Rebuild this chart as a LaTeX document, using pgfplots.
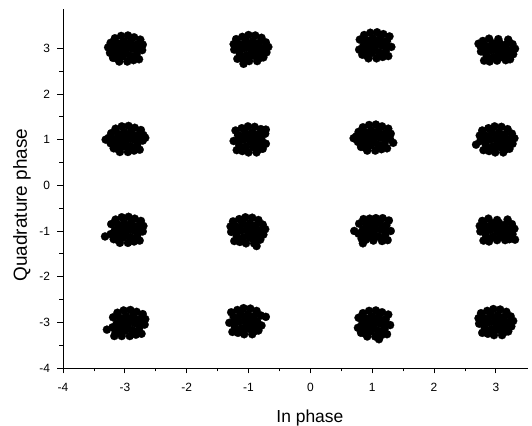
\documentclass[border=0pt]{standalone}
\usepackage{pgfplots}
\pgfplotsset{compat=1.18}
\usepackage{fontspec}
\setmainfont{Liberation Sans}
\pgfplotsset{dot/.style={only marks, mark=*, mark size=4.1bp, color=black, mark options={draw=black, fill=black, line width=0.2bp}}}
\begin{document}
\begin{tikzpicture}
\path[use as bounding box] (0,0) rectangle (532bp,426bp);
\begin{axis}[
  at={(63bp,58bp)}, anchor=south west,
  width=465bp, height=359bp, scale only axis,
  xmin=-4, xmax=3.52, ymin=-4, ymax=3.86,
  axis x line=bottom, axis y line=left,
  axis line style={-, line width=0.9bp, black},
  xtick={-4,-3,-2,-1,0,1,2,3}, ytick={-4,-3,-2,-1,0,1,2,3},
  xticklabels={-4,-3,-2,-1,0,1,2,3},
  yticklabels={-4,-3,-2,-1,0,1,2,3},
  minor tick num=1,
  tick align=outside,
  major tick length=5.5bp, minor tick length=3.5bp,
  tick style={black, line width=0.8bp},
  ticklabel style={font=\fontsize{12}{14}\selectfont},
  xticklabel style={yshift=-6.5bp},
  yticklabel style={xshift=-4bp},
  xlabel={In phase}, ylabel={Quadrature phase},
  xlabel style={font=\fontsize{17.5}{20}\selectfont, at={(axis description cs:0.531,-0.139)}, anchor=center},
  ylabel style={font=\fontsize{19}{22}\selectfont, at={(axis description cs:-0.088,0.454)}, anchor=center},
  clip=false,
]
% (-3,3)
\addplot[dot] table {
-3.27 3.02
-3.24 2.90
-3.23 3.12
-3.19 2.79
-3.17 2.99
-3.16 3.22
-3.13 2.89
-3.12 3.11
-3.09 2.71
-3.07 2.99
-3.06 3.27
-3.03 2.83
-3.02 3.15
-2.99 2.95
-2.98 3.05
-2.96 2.71
-2.95 3.28
-2.92 2.84
-2.91 3.14
-2.88 2.99
-2.86 2.74
-2.85 3.24
-2.81 2.87
-2.79 3.09
-2.77 2.76
-2.75 3.19
-2.72 2.96
-2.71 3.08
-3.12 2.77
-2.80 2.97
-3.06 3.07
-2.85 3.06
-3.05 2.92
};
% (-1,3)
\addplot[dot] table {
-0.68 3.03
-0.71 2.91
-0.72 3.13
-0.76 2.80
-0.78 3.00
-0.79 3.23
-0.82 2.90
-0.83 3.12
-0.86 2.72
-0.88 3.00
-0.89 3.28
-0.92 2.84
-0.93 3.16
-0.96 2.96
-0.97 3.06
-0.99 2.72
-1.00 3.29
-1.03 2.85
-1.04 3.15
-1.07 3.00
-1.09 2.75
-1.10 3.25
-1.14 2.88
-1.16 3.10
-1.18 2.77
-1.20 3.20
-1.23 2.97
-1.24 3.09
-0.83 2.78
-1.08 2.66
-1.15 2.98
-0.89 3.08
-1.10 3.07
-0.90 2.93
};
% (1,3)
\addplot[dot] table {
0.79 2.97
0.80 3.19
0.84 2.86
0.86 3.06
0.87 3.29
0.90 2.96
0.91 3.18
0.94 2.78
0.96 3.06
0.97 3.34
1.00 2.90
1.01 3.22
1.04 3.02
1.05 3.12
1.07 2.78
1.08 3.35
1.11 2.91
1.12 3.21
1.15 3.06
1.17 2.81
1.18 3.31
1.22 2.94
1.24 3.16
1.26 2.83
1.28 3.26
1.31 3.03
0.91 2.84
1.23 3.04
0.97 3.14
1.18 3.13
0.98 2.99
};
% (3,3)
\addplot[dot] table {
3.31 2.99
3.28 2.87
3.27 3.09
3.23 2.76
3.21 2.96
3.20 3.19
3.17 2.86
3.16 3.08
3.11 2.96
3.07 2.80
3.06 3.12
3.03 2.92
3.02 3.02
2.96 2.81
2.95 3.11
2.92 2.96
2.90 2.71
2.89 3.21
2.85 2.84
2.83 3.06
2.81 2.73
2.79 3.16
2.76 2.93
2.75 3.05
3.16 2.74
2.72 3.10
3.04 3.20
3.02 2.73
2.84 2.94
3.10 3.04
2.89 3.03
3.09 2.89
};
% (-3,1)
\addplot[dot] table {
-3.26 1.04
-3.23 0.92
-3.22 1.14
-3.18 0.81
-3.16 1.01
-3.15 1.24
-3.12 0.91
-3.11 1.13
-3.08 0.73
-3.06 1.01
-3.05 1.29
-3.02 0.85
-3.01 1.17
-2.98 0.97
-2.97 1.07
-2.95 0.73
-2.94 1.30
-2.91 0.86
-2.90 1.16
-2.87 1.01
-2.85 0.76
-2.84 1.26
-2.80 0.89
-2.78 1.11
-2.76 0.78
-2.74 1.21
-2.71 0.98
-2.70 1.10
-3.11 0.79
-3.31 1.00
-2.67 1.04
-2.79 0.99
-3.05 1.09
-2.84 1.08
-3.04 0.94
};
% (-1,1)
\addplot[dot] table {
-0.72 0.91
-0.73 1.13
-0.77 0.80
-0.79 1.00
-0.80 1.23
-0.83 0.90
-0.84 1.12
-0.87 0.72
-0.89 1.00
-0.90 1.28
-0.93 0.84
-0.94 1.16
-0.97 0.96
-0.98 1.06
-1.00 0.72
-1.01 1.29
-1.04 0.85
-1.05 1.15
-1.08 1.00
-1.10 0.75
-1.11 1.25
-1.15 0.88
-1.17 1.10
-1.19 0.77
-1.21 1.20
-1.24 0.97
-0.84 0.78
-0.72 1.22
-1.16 0.98
-0.90 1.08
-1.11 1.07
-0.91 0.93
};
% (1,1)
\addplot[dot] table {
0.74 1.07
0.77 0.95
0.78 1.17
0.82 0.84
0.84 1.04
0.85 1.27
0.88 0.94
0.89 1.16
0.92 0.76
0.94 1.04
0.95 1.32
0.98 0.88
0.99 1.20
1.02 1.00
1.03 1.10
1.05 0.76
1.06 1.33
1.09 0.89
1.10 1.19
1.13 1.04
1.15 0.79
1.16 1.29
1.20 0.92
1.22 1.14
1.24 0.81
1.26 1.24
1.29 1.01
1.30 1.13
0.89 0.82
0.70 1.03
1.34 0.93
1.21 1.02
0.95 1.12
1.16 1.11
0.96 0.97
};
% (3,1)
\addplot[dot] table {
3.30 1.03
3.27 0.91
3.26 1.13
3.22 0.80
3.20 1.00
3.19 1.23
3.16 0.90
3.15 1.12
3.12 0.72
3.10 1.00
3.09 1.28
3.06 0.84
3.05 1.16
3.02 0.96
3.01 1.06
2.99 0.72
2.98 1.29
2.95 0.85
2.94 1.15
2.91 1.00
2.89 0.75
2.88 1.25
2.84 0.88
2.82 1.10
2.80 0.77
2.78 1.20
2.75 0.97
2.74 1.09
3.15 0.78
2.68 0.89
2.83 0.98
3.09 1.08
2.88 1.07
3.08 0.93
};
% (-3,-1)
\addplot[dot] table {
-3.23 -1.07
-3.22 -0.85
-3.18 -1.18
-3.16 -0.98
-3.15 -0.75
-3.12 -1.08
-3.11 -0.86
-3.08 -1.26
-3.06 -0.98
-3.05 -0.70
-3.02 -1.14
-3.01 -0.82
-2.98 -1.02
-2.97 -0.92
-2.95 -1.26
-2.94 -0.69
-2.91 -1.13
-2.90 -0.83
-2.87 -0.98
-2.85 -1.23
-2.84 -0.73
-2.80 -1.10
-2.78 -0.88
-2.76 -1.21
-2.74 -0.78
-2.71 -1.01
-2.70 -0.89
-3.11 -1.20
-3.32 -1.12
-2.79 -1.00
-3.05 -0.90
-2.84 -0.91
-3.04 -1.05
};
% (-1,-1)
\addplot[dot] table {
-0.73 -0.96
-0.76 -1.08
-0.77 -0.86
-0.81 -1.19
-0.83 -0.99
-0.84 -0.76
-0.87 -1.09
-0.88 -0.87
-0.91 -1.27
-0.93 -0.99
-0.94 -0.71
-0.97 -1.15
-0.98 -0.83
-1.01 -1.03
-1.02 -0.93
-1.04 -1.27
-1.05 -0.70
-1.08 -1.14
-1.09 -0.84
-1.12 -0.99
-1.14 -1.24
-1.15 -0.74
-1.19 -1.11
-1.21 -0.89
-1.23 -1.22
-1.25 -0.79
-1.28 -1.02
-1.29 -0.90
-0.88 -1.21
-0.87 -1.33
-1.20 -1.01
-0.94 -0.91
-1.15 -0.92
-0.95 -1.06
};
% (1,-1)
\addplot[dot] table {
0.78 -1.06
0.79 -0.84
0.83 -1.17
0.85 -0.97
0.86 -0.74
0.89 -1.07
0.90 -0.85
0.95 -0.97
0.99 -1.13
1.00 -0.81
1.03 -1.01
1.04 -0.91
1.10 -1.12
1.11 -0.82
1.14 -0.97
1.16 -1.22
1.17 -0.72
1.21 -1.09
1.23 -0.87
1.25 -1.20
1.27 -0.77
1.30 -1.00
0.90 -1.19
0.96 -0.73
1.06 -0.72
1.02 -1.21
0.71 -1.00
0.85 -1.27
1.22 -0.99
0.96 -0.89
1.17 -0.90
0.97 -1.04
};
% (3,-1)
\addplot[dot] table {
3.30 -0.95
3.27 -1.07
3.26 -0.85
3.22 -1.18
3.20 -0.98
3.19 -0.75
3.16 -1.08
3.15 -0.86
3.10 -0.98
3.06 -1.14
3.05 -0.82
3.02 -1.02
3.01 -0.92
2.95 -1.13
2.94 -0.83
2.91 -0.98
2.89 -1.23
2.88 -0.73
2.84 -1.10
2.82 -0.88
2.80 -1.21
2.78 -0.78
2.75 -1.01
2.74 -0.89
3.15 -1.20
3.02 -0.76
3.02 -1.20
3.31 -1.19
2.83 -1.00
3.09 -0.90
2.88 -0.91
3.08 -1.05
};
% (-3,-3)
\addplot[dot] table {
-3.20 -3.11
-3.19 -2.89
-3.15 -3.22
-3.13 -3.02
-3.12 -2.79
-3.09 -3.12
-3.08 -2.90
-3.05 -3.30
-3.03 -3.02
-3.02 -2.74
-2.99 -3.18
-2.98 -2.86
-2.95 -3.06
-2.94 -2.96
-2.92 -3.30
-2.91 -2.73
-2.88 -3.17
-2.87 -2.87
-2.84 -3.02
-2.82 -3.27
-2.81 -2.77
-2.77 -3.14
-2.75 -2.92
-2.73 -3.25
-2.71 -2.82
-2.68 -3.05
-2.67 -2.93
-3.08 -3.24
-3.29 -3.16
-3.17 -3.30
-2.76 -3.04
-3.02 -2.94
-2.81 -2.95
-3.01 -3.09
};
% (-1,-3)
\addplot[dot] table {
-0.79 -3.07
-0.80 -2.85
-0.84 -3.18
-0.86 -2.98
-0.87 -2.75
-0.90 -3.08
-0.91 -2.86
-0.94 -3.26
-0.96 -2.98
-0.97 -2.70
-1.00 -3.14
-1.01 -2.82
-1.04 -3.02
-1.05 -2.92
-1.07 -3.26
-1.08 -2.69
-1.11 -3.13
-1.12 -2.83
-1.15 -2.98
-1.17 -3.23
-1.18 -2.73
-1.22 -3.10
-1.24 -2.88
-1.26 -3.21
-1.28 -2.78
-1.31 -3.01
-0.91 -3.20
-0.72 -2.88
-1.23 -3.00
-0.97 -2.90
-1.18 -2.91
-0.98 -3.05
};
% (1,-3)
\addplot[dot] table {
0.77 -3.12
0.78 -2.90
0.82 -3.23
0.84 -3.03
0.85 -2.80
0.88 -3.13
0.89 -2.91
0.92 -3.31
0.94 -3.03
0.95 -2.75
0.98 -3.19
0.99 -2.87
1.02 -3.07
1.03 -2.97
1.05 -3.31
1.06 -2.74
1.09 -3.18
1.10 -2.88
1.13 -3.03
1.15 -3.28
1.16 -2.78
1.20 -3.15
1.22 -2.93
1.24 -3.26
1.26 -2.83
1.29 -3.06
0.89 -3.25
1.11 -3.37
1.21 -3.05
0.95 -2.95
1.16 -2.96
0.96 -3.10
};
% (3,-3)
\addplot[dot] table {
3.28 -2.97
3.25 -3.09
3.24 -2.87
3.20 -3.20
3.18 -3.00
3.17 -2.77
3.14 -3.10
3.13 -2.88
3.10 -3.28
3.08 -3.00
3.07 -2.72
3.04 -3.16
3.03 -2.84
3.00 -3.04
2.99 -2.94
2.97 -3.28
2.96 -2.71
2.93 -3.15
2.92 -2.85
2.89 -3.00
2.87 -3.25
2.86 -2.75
2.82 -3.12
2.80 -2.90
2.78 -3.23
2.76 -2.80
2.73 -3.03
2.72 -2.91
3.13 -3.22
2.81 -3.02
3.07 -2.92
2.86 -2.93
3.06 -3.07
};
\end{axis}
\end{tikzpicture}
\end{document}
